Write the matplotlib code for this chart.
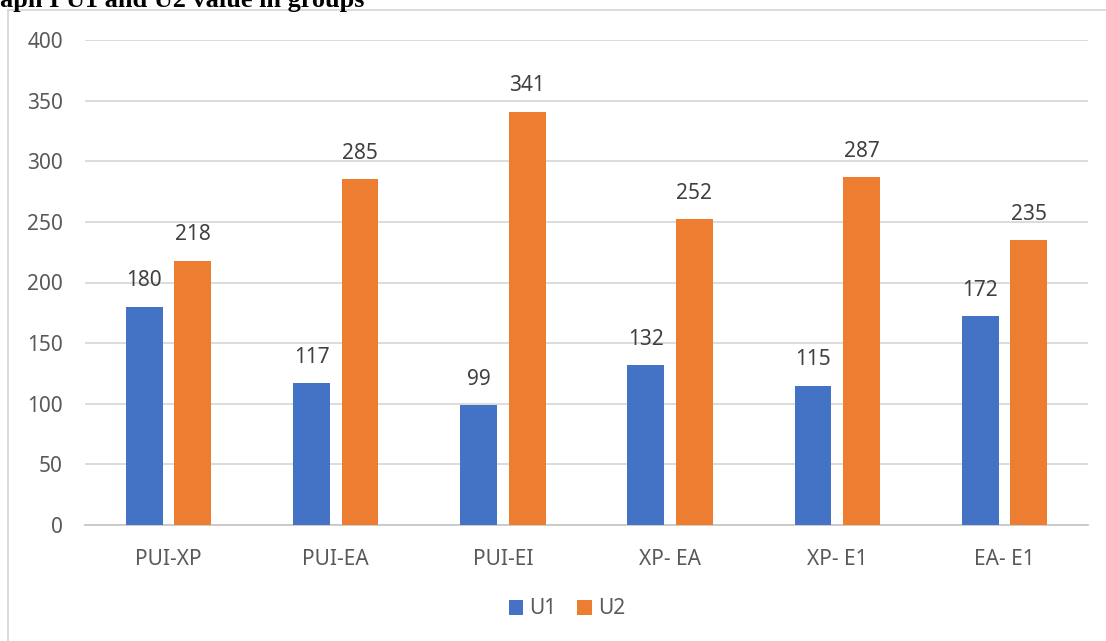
import numpy as np
import matplotlib
matplotlib.use('Agg')
import matplotlib.pyplot as plt
from matplotlib.lines import Line2D

groups = ['PUI-XP', 'PUI-EA', 'PUI-EI', 'XP- EA', 'XP- E1', 'EA- E1']
u1 = [180, 117, 99, 132, 115, 172]
u2 = [218, 285, 341, 252, 287, 235]
series_names = ['U1', 'U2']
yticks = [0, 50, 100, 150, 200, 250, 300, 350, 400]

blue = '#4472C4'
orange = '#ED7D31'
grid_c = '#d9d9d9'
txt_c = '#595959'

plt.rcParams['font.family'] = ['Noto Sans', 'DejaVu Sans']

W, H = 1106, 641
fig = plt.figure(figsize=(W / 100, H / 100), dpi=100)
ax = fig.add_axes([85 / W, 1 - 525 / H, (1088 - 85) / W, (525 - 40) / H])

x = np.arange(len(groups))
bw = 0.22
gap = 0.07
b1 = ax.bar(x - (bw + gap) / 2, u1, bw, color=blue, label=series_names[0], zorder=3)
b2 = ax.bar(x + (bw + gap) / 2, u2, bw, color=orange, label=series_names[1], zorder=3)
ax.bar_label(b1, padding=11, fontsize=15, color='#404040')
ax.bar_label(b2, padding=11, fontsize=15, color='#404040')

ax.set_xlim(-0.5, len(groups) - 0.5)
ax.set_ylim(0, 400)
ax.set_yticks(yticks)
ax.set_xticks(x)
ax.set_xticklabels(groups)
ax.grid(axis='y', color=grid_c, linewidth=1.3, zorder=0)
ax.tick_params(axis='both', length=0, labelsize=15, labelcolor=txt_c)
ax.tick_params(axis='y', pad=16)
ax.tick_params(axis='x', pad=17)
for s in ['top', 'right', 'left']:
    ax.spines[s].set_visible(False)
ax.spines['bottom'].set_color('#c8c8c8')
ax.spines['bottom'].set_linewidth(1.3)

fig.legend(handles=[b1, b2], loc='center', bbox_to_anchor=(567 / W, 1 - 609 / H),
           ncol=2, frameon=False, fontsize=15, handlelength=0.7, handleheight=0.7,
           handletextpad=0.3, columnspacing=1.0, labelcolor=txt_c)

# chart frame (cropped) and title cut off at top of the page
fig.add_artist(Line2D([8 / W, 8 / W], [0, 1 - 10 / H], color=grid_c, lw=1.3))
fig.add_artist(Line2D([8 / W, 1], [1 - 10 / H, 1 - 10 / H], color=grid_c, lw=1.3))
fig.text(-32 / W, 1 - 7 / H, 'Graph I U1 and U2 value in groups', family='Liberation Serif',
         fontweight='bold', fontsize=18.9, va='baseline', ha='left', color='black')

fig.savefig('out.png', dpi=100)
